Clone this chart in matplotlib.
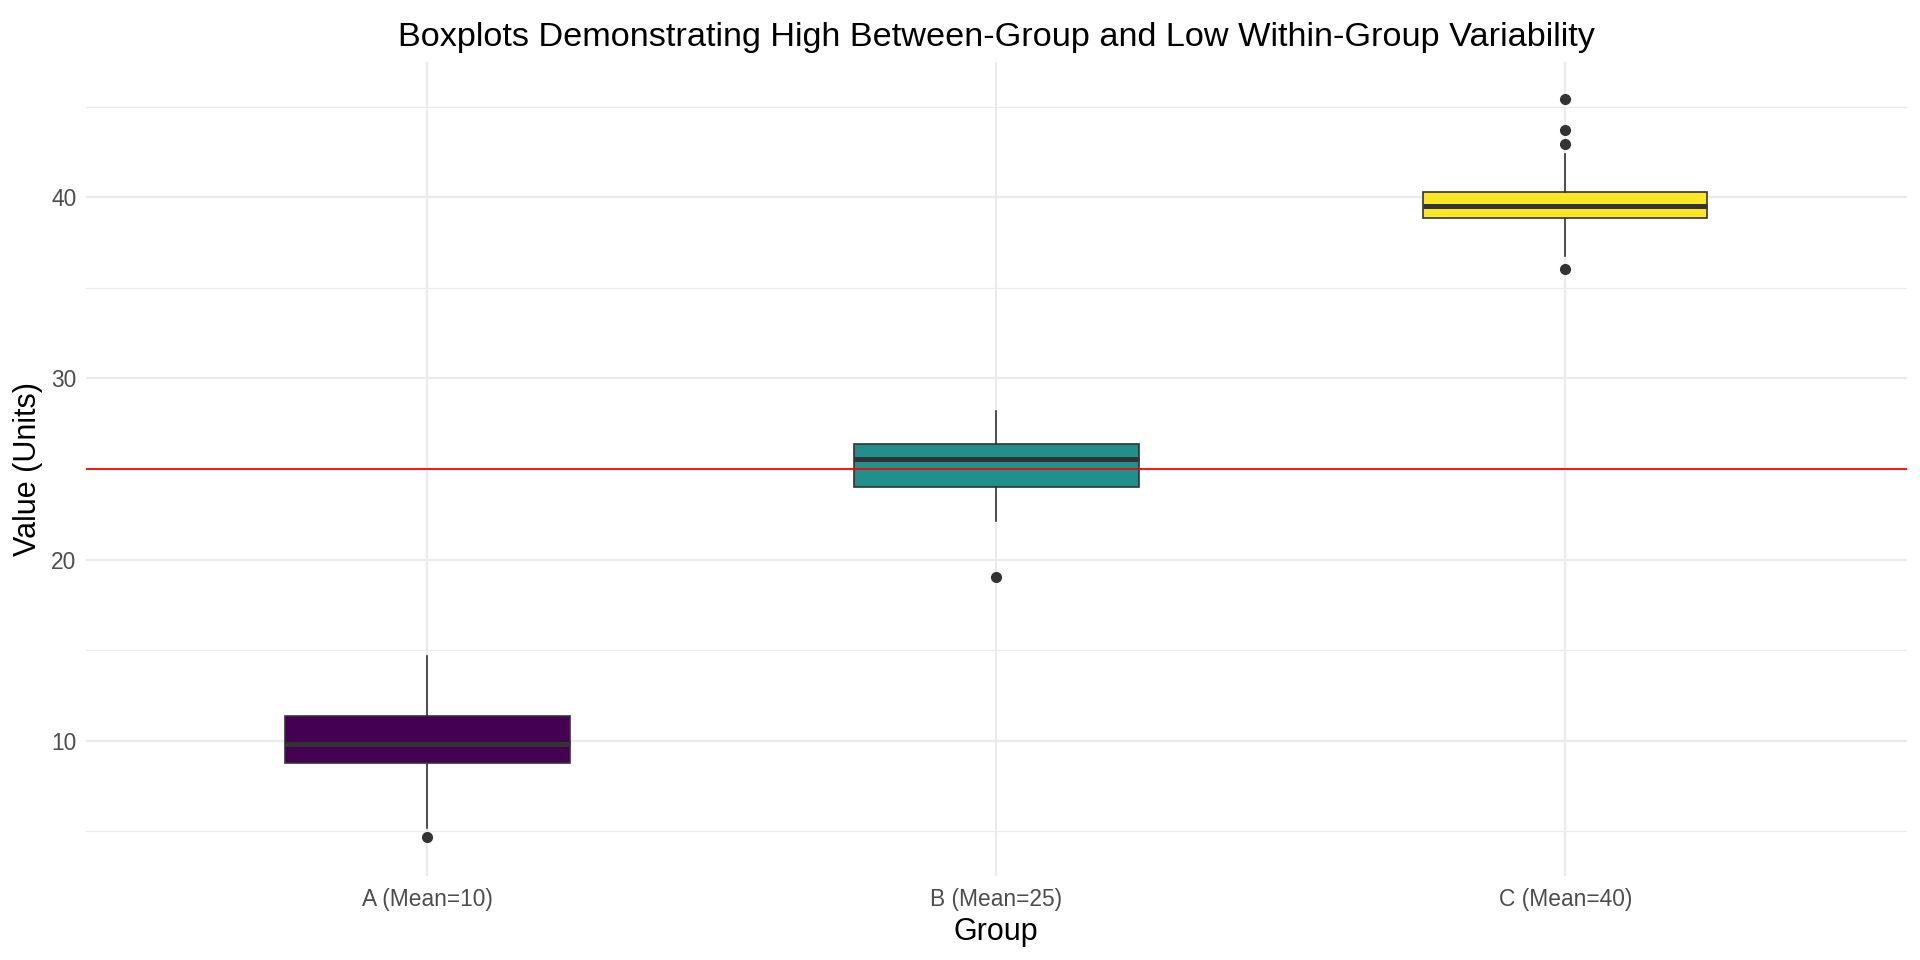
import matplotlib
matplotlib.use("Agg")
import matplotlib.pyplot as plt

plt.rcParams["font.family"] = ["Liberation Sans", "DejaVu Sans"]

# box stats
groups = ["A (Mean=10)", "B (Mean=25)", "C (Mean=40)"]
q1 = [8.77, 24.02, 38.86]
med = [9.81, 25.54, 39.50]
q3 = [11.36, 26.40, 40.30]
whislo = [5.17, 22.15, 36.74]
whishi = [14.67, 28.20, 42.41]
fliers = [[4.71], [19.06], [36.04, 42.92, 43.73, 45.41]]
colors = ["#440154", "#21908C", "#FDE725"]
grand_mean = 25

stats = [dict(label=g, q1=a, med=m, q3=b, whislo=lo, whishi=hi, fliers=f)
         for g, a, m, b, lo, hi, f in zip(groups, q1, med, q3, whislo, whishi, fliers)]

fig = plt.figure(figsize=(19.2, 9.6), dpi=100)
ax = fig.add_axes([0.0448, 0.088, 0.9482, 0.847])

GRID = "#EBEBEB"
for y in [5, 15, 25, 35, 45]:
    ax.axhline(y, color=GRID, lw=0.9, zorder=0)
for y in [10, 20, 30, 40]:
    ax.axhline(y, color=GRID, lw=1.6, zorder=0)
for x in [1, 2, 3]:
    ax.axvline(x, color=GRID, lw=1.6, zorder=0)

bp = ax.bxp(stats, positions=[1, 2, 3], widths=0.5, patch_artist=True,
            showcaps=False,
            boxprops=dict(edgecolor="#333333", linewidth=1.2),
            whiskerprops=dict(color="#333333", linewidth=1.2),
            medianprops=dict(color="#333333", linewidth=3.6, solid_capstyle="butt"),
            flierprops=dict(marker="o", markerfacecolor="#333333", markeredgecolor="#333333",
                            markersize=7, linestyle="none"))
for patch, c in zip(bp["boxes"], colors):
    patch.set_facecolor(c)
    patch.set_zorder(2)

ax.axhline(grand_mean, color="red", lw=1.3, zorder=3)

ax.set_xlim(0.4, 3.6)
ax.set_ylim(2.56, 47.44)
ax.set_yticks([10, 20, 30, 40])
ax.set_xticks([1, 2, 3])
ax.set_xticklabels(groups)
for s in ax.spines.values():
    s.set_visible(False)
ax.tick_params(length=0, labelsize=16.4, labelcolor="#4D4D4D")
ax.tick_params(axis="x", pad=9)
ax.tick_params(axis="y", pad=7)

ax.set_xlabel("Group", fontsize=22, labelpad=4)
ax.set_ylabel("Value (Units)", fontsize=22, labelpad=6)
ax.set_title("Boxplots Demonstrating High Between-Group and Low Within-Group Variability",
             fontsize=24.7, pad=12)

fig.savefig("out.png", dpi=100)
